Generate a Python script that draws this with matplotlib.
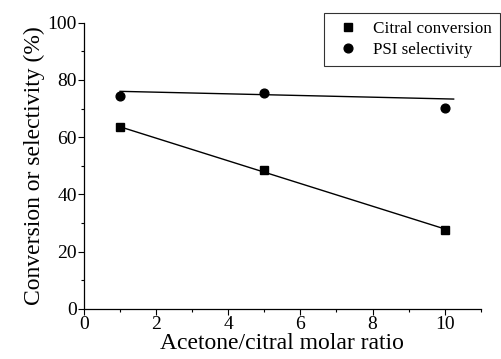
import matplotlib
matplotlib.use("Agg")
import matplotlib.pyplot as plt
from matplotlib.ticker import MultipleLocator

plt.rcParams['font.family'] = ['Liberation Serif', 'DejaVu Serif']

ratio = [1, 5, 10]
conversion = [63.5, 48.5, 27.5]
selectivity = [74.5, 75.5, 70.2]

fit_conv_x = [1, 10]
fit_conv_y = [63.6, 27.9]
fit_sel_x = [1, 10.25]
fit_sel_y = [76.0, 73.3]

fig = plt.figure(figsize=(5.02, 3.59), dpi=100)
ax = fig.add_axes([84/502, 1-308.7/359, (480.7-84)/502, (308.7-22.7)/359])

ax.plot(fit_sel_x, fit_sel_y, color='black', lw=1.0)
ax.plot(fit_conv_x, fit_conv_y, color='black', lw=1.0)
h1, = ax.plot(ratio, conversion, 's', color='black', ms=6.3, linestyle='none', label='Citral conversion')
h2, = ax.plot(ratio, selectivity, 'o', color='black', ms=6.3, linestyle='none', label='PSI selectivity')

ax.set_xlim(0, 11)
ax.set_ylim(0, 100)
ax.xaxis.set_major_locator(MultipleLocator(2))
ax.xaxis.set_minor_locator(MultipleLocator(1))
ax.yaxis.set_major_locator(MultipleLocator(20))
ax.yaxis.set_minor_locator(MultipleLocator(10))
ax.tick_params(which='major', direction='out', length=4, width=0.8, labelsize=14, pad=1)
ax.tick_params(which='minor', direction='out', length=2.5, width=0.8)
for s in ['top', 'right']:
    ax.spines[s].set_visible(False)
for s in ['left', 'bottom']:
    ax.spines[s].set_linewidth(0.9)

ax.set_xlabel('Acetone/citral molar ratio', fontsize=17, labelpad=0)
ax.set_ylabel('Conversion or selectivity (%)', fontsize=17, labelpad=2)

leg = fig.legend(handles=[h1, h2], loc='upper left', bbox_to_anchor=(324/502, 1-13/359),
                 frameon=True, fancybox=False, edgecolor='black', fontsize=12.3,
                 borderaxespad=0, handletextpad=0.49, borderpad=0.45, labelspacing=0.33,
                 handlelength=1.95)
leg.get_frame().set_linewidth(0.8)

fig.savefig('out.png', dpi=100)
